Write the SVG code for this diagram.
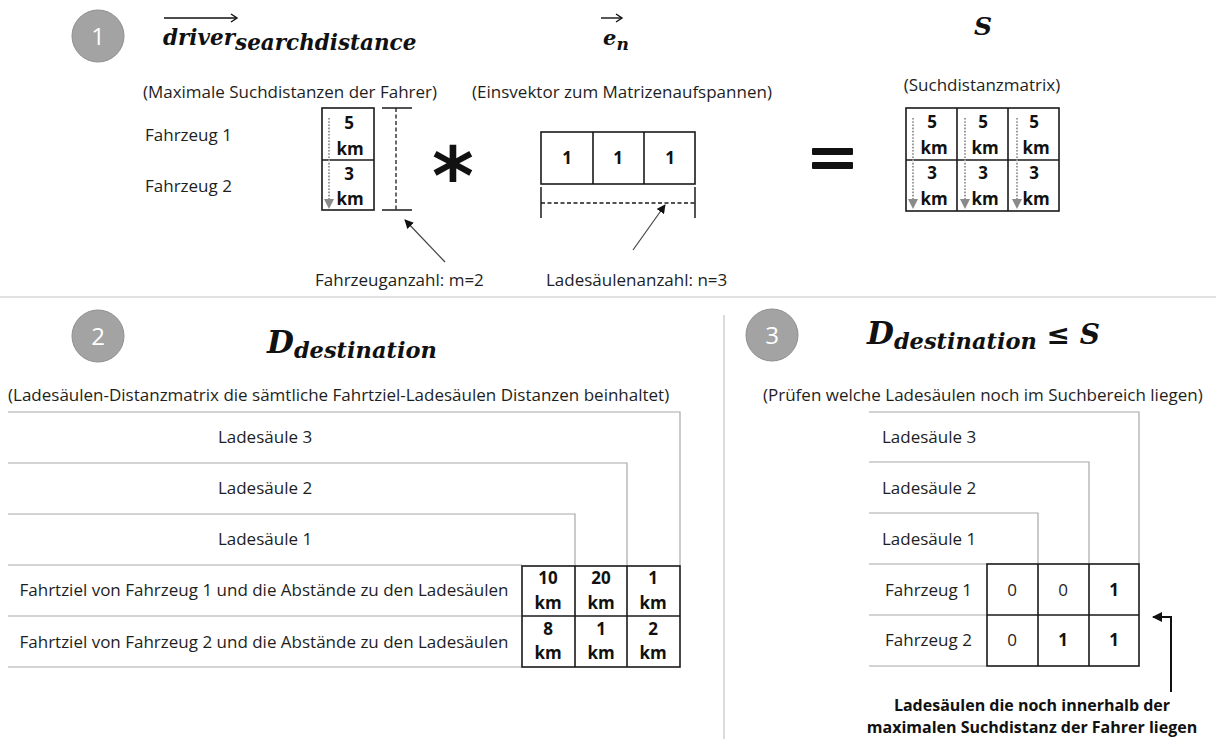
<svg xmlns="http://www.w3.org/2000/svg" width="1216" height="739" viewBox="0 0 1216 739">
  <style>
    .bg { fill: #ffffff; }
    .badge { fill: #a3a3a3; stroke: #8f8f8f; stroke-width: 1; }
    .badge-num { font-family: "Open Sans", "Liberation Sans", sans-serif; font-size: 24px; fill: #ffffff; text-anchor: middle; }
    .math { font-family: "DejaVu Serif", "Liberation Serif", serif; font-weight: bold; font-style: italic; fill: #111111; }
    .txt { font-family: "Open Sans", "Liberation Sans", sans-serif; font-size: 17px; fill: #1e1e1e; }
    .mid { text-anchor: middle; }
    .cell { font-family: "Open Sans", "Liberation Sans", sans-serif; font-size: 17px; font-weight: bold; fill: #111111; text-anchor: middle; }
    .cellv { font-family: "Open Sans", "Liberation Sans", sans-serif; font-size: 17px; fill: #1e1e1e; text-anchor: middle; }
    .grid { fill: none; stroke: #1a1a1a; stroke-width: 1.6; }
    .guide { fill: none; stroke: #a8a8a8; stroke-width: 1.2; }
    .sep { fill: none; stroke: #c4c4c4; stroke-width: 1.2; }
    .dim { fill: none; stroke: #1a1a1a; stroke-width: 1.5; }
    .dash { fill: none; stroke: #1a1a1a; stroke-width: 1.3; stroke-dasharray: 4 2.5; }
    .flow { fill: none; stroke: #9a9a9a; stroke-width: 2; stroke-dasharray: 1.6 1.6; }
    .pointer { fill: none; stroke: #444444; stroke-width: 1.2; }
    .vecbar { fill: none; stroke: #111111; stroke-width: 1.4; }
    .note { font-family: "Open Sans", "Liberation Sans", sans-serif; font-size: 16px; font-weight: bold; fill: #111111; text-anchor: middle; }
  </style>
  <defs>
    <marker id="tip" viewBox="0 0 10 10" refX="9" refY="5" markerWidth="9" markerHeight="9" markerUnits="userSpaceOnUse" orient="auto">
      <path d="M0,0 L10,5 L0,10 z" fill="#111111"/>
    </marker>
    <marker id="tipbig" viewBox="0 0 10 10" refX="9" refY="5" markerWidth="13" markerHeight="10" markerUnits="userSpaceOnUse" orient="auto">
      <path d="M0,0 L10,5 L0,10 z" fill="#111111"/>
    </marker>
    <marker id="tipgray" viewBox="0 0 10 10" refX="8" refY="5" markerWidth="10" markerHeight="10" markerUnits="userSpaceOnUse" orient="auto">
      <path d="M0,0 L10,5 L0,10 z" fill="#8a8a8a"/>
    </marker>
    <path id="vecHead" d="M-6,-4 L0,0 L-6,4" fill="none" stroke="#111111" stroke-width="1.4"/>
  </defs>

  <rect class="bg" x="0" y="0" width="1216" height="739"/>

  <!-- panel separators -->
  <g id="separators">
    <line class="sep" x1="0" y1="297" x2="1216" y2="297"/>
    <line class="sep" x1="724" y1="315" x2="724" y2="739"/>
  </g>

  <!-- ===== step 1: spanning the search distance matrix ===== -->
  <g id="badge-1">
    <circle class="badge" cx="98" cy="36" r="26"/>
    <text class="badge-num" x="98" y="45">1</text>
  </g>

  <g id="title-driver">
    <line class="vecbar" x1="164" y1="18" x2="236" y2="18"/>
    <use href="#vecHead" x="237" y="18"/>
    <text class="math" x="163" y="45" font-size="21.5">driver<tspan dy="5">searchdistance</tspan></text>
  </g>

  <g id="title-en">
    <line class="vecbar" x1="601" y1="18" x2="621" y2="18"/>
    <use href="#vecHead" x="622" y="18"/>
    <text class="math" x="603" y="45" font-size="21">e<tspan dy="5" font-size="17">n</tspan></text>
  </g>

  <g id="title-s">
    <text class="math" x="974" y="35" font-size="25">S</text>
  </g>

  <g id="caption-driver">
    <text class="txt mid" x="290" y="98">(Maximale Suchdistanzen der Fahrer)</text>
  </g>
  <g id="caption-en">
    <text class="txt mid" x="622" y="98">(Einsvektor zum Matrizenaufspannen)</text>
  </g>
  <g id="caption-s">
    <text class="txt mid" x="982" y="91">(Suchdistanzmatrix)</text>
  </g>

  <g id="row-labels-1">
    <text class="txt" x="145" y="141">Fahrzeug 1</text>
    <text class="txt" x="145" y="192">Fahrzeug 2</text>
  </g>

  <!-- column vector of search distances -->
  <g id="vector-driver">
    <rect class="grid" x="322" y="108" width="52" height="102"/>
    <line class="grid" x1="322" y1="160" x2="374" y2="160"/>
    <text class="cell" x="349" y="129">5</text>
    <text class="cell" x="350" y="155">km</text>
    <text class="cell" x="349" y="180">3</text>
    <text class="cell" x="350" y="205">km</text>
  </g>

  <!-- height bracket m -->
  <g id="bracket-m">
    <line class="dim" x1="382" y1="108" x2="412" y2="108"/>
    <line class="dim" x1="382" y1="210" x2="412" y2="210"/>
    <line class="dash" x1="396" y1="108" x2="396" y2="210"/>
  </g>

  <g id="op-multiply">
    <text x="453" y="204" font-family="DejaVu Sans, sans-serif" font-weight="bold" font-size="80" fill="#111111" text-anchor="middle">*</text>
  </g>

  <!-- row vector of ones -->
  <g id="vector-ones">
    <rect class="grid" x="541" y="132" width="154" height="52"/>
    <line class="grid" x1="593" y1="132" x2="593" y2="184"/>
    <line class="grid" x1="644" y1="132" x2="644" y2="184"/>
    <text class="cell" x="567" y="164">1</text>
    <text class="cell" x="618" y="164">1</text>
    <text class="cell" x="670" y="164">1</text>
  </g>

  <!-- width bracket n -->
  <g id="bracket-n">
    <line class="dim" x1="541" y1="187" x2="541" y2="218"/>
    <line class="dim" x1="695" y1="187" x2="695" y2="218"/>
    <line class="dash" x1="541" y1="203" x2="695" y2="203"/>
  </g>

  <g id="label-m">
    <text class="txt" x="315" y="286">Fahrzeuganzahl: m=2</text>
  </g>
  <g id="label-n">
    <text class="txt" x="546" y="286">Ladesäulenanzahl: n=3</text>
  </g>

  <g id="op-equals">
    <rect x="812" y="148" width="41" height="7" rx="1" fill="#111111"/>
    <rect x="812" y="162" width="41" height="7" rx="1" fill="#111111"/>
  </g>

  <!-- resulting search distance matrix S -->
  <g id="matrix-s">
    <rect class="grid" x="906" y="108" width="153" height="103"/>
    <line class="grid" x1="957" y1="108" x2="957" y2="211"/>
    <line class="grid" x1="1008" y1="108" x2="1008" y2="211"/>
    <line class="grid" x1="906" y1="160" x2="1059" y2="160"/>
    <text class="cell" x="932" y="128">5</text>
    <text class="cell" x="934" y="154">km</text>
    <text class="cell" x="932" y="179">3</text>
    <text class="cell" x="934" y="205">km</text>
    <text class="cell" x="983" y="128">5</text>
    <text class="cell" x="985" y="154">km</text>
    <text class="cell" x="983" y="179">3</text>
    <text class="cell" x="985" y="205">km</text>
    <text class="cell" x="1034" y="128">5</text>
    <text class="cell" x="1036" y="154">km</text>
    <text class="cell" x="1034" y="179">3</text>
    <text class="cell" x="1036" y="205">km</text>
  </g>

  <!-- ===== step 2: destination distance matrix ===== -->
  <g id="badge-2">
    <circle class="badge" cx="98" cy="336" r="26"/>
    <text class="badge-num" x="98" y="345">2</text>
  </g>

  <g id="title-d">
    <text class="math" x="267" y="353" font-size="31">D<tspan dy="5" font-size="22.5">destination</tspan></text>
  </g>

  <g id="caption-d">
    <text class="txt" x="8" y="401">(Ladesäulen-Distanzmatrix die sämtliche Fahrtziel-Ladesäulen Distanzen beinhaltet)</text>
  </g>

  <g id="table-d-guides">
    <path class="guide" d="M8,412 H680 V566"/>
    <path class="guide" d="M8,463 H627 V566"/>
    <path class="guide" d="M8,514 H575 V566"/>
    <line class="guide" x1="8" y1="565" x2="522" y2="565"/>
    <line class="guide" x1="8" y1="616" x2="522" y2="616"/>
    <line class="guide" x1="8" y1="667" x2="522" y2="667"/>
  </g>

  <g id="table-d-labels">
    <text class="txt mid" x="265" y="443">Ladesäule 3</text>
    <text class="txt mid" x="265" y="494">Ladesäule 2</text>
    <text class="txt mid" x="265" y="545">Ladesäule 1</text>
    <text class="txt mid" x="264" y="596">Fahrtziel von Fahrzeug 1 und die Abstände zu den Ladesäulen</text>
    <text class="txt mid" x="264" y="648">Fahrtziel von Fahrzeug 2 und die Abstände zu den Ladesäulen</text>
  </g>

  <g id="matrix-d">
    <rect class="grid" x="522" y="566" width="158" height="101"/>
    <line class="grid" x1="575" y1="566" x2="575" y2="667"/>
    <line class="grid" x1="627" y1="566" x2="627" y2="667"/>
    <line class="grid" x1="522" y1="616" x2="680" y2="616"/>
    <text class="cell" x="548" y="584">10</text>
    <text class="cell" x="548" y="609">km</text>
    <text class="cell" x="601" y="584">20</text>
    <text class="cell" x="601" y="609">km</text>
    <text class="cell" x="653" y="584">1</text>
    <text class="cell" x="653" y="609">km</text>
    <text class="cell" x="548" y="635">8</text>
    <text class="cell" x="548" y="659">km</text>
    <text class="cell" x="601" y="635">1</text>
    <text class="cell" x="601" y="659">km</text>
    <text class="cell" x="653" y="635">2</text>
    <text class="cell" x="653" y="659">km</text>
  </g>

  <!-- ===== step 3: comparison against S ===== -->
  <g id="badge-3">
    <circle class="badge" cx="772" cy="335" r="26"/>
    <text class="badge-num" x="772" y="344">3</text>
  </g>

  <g id="title-cmp">
    <text class="math" x="867" y="344" font-size="31">D<tspan dy="5" font-size="22.5">destination</tspan><tspan dy="-5" font-size="28"> ≤ S</tspan></text>
  </g>

  <g id="caption-cmp">
    <text class="txt" x="763" y="401">(Prüfen welche Ladesäulen noch im Suchbereich liegen)</text>
  </g>

  <g id="table-cmp-guides">
    <path class="guide" d="M869,412 H1139 V564"/>
    <path class="guide" d="M869,462 H1089 V564"/>
    <path class="guide" d="M869,513 H1038 V564"/>
    <line class="guide" x1="869" y1="564" x2="987" y2="564"/>
    <line class="guide" x1="869" y1="615" x2="987" y2="615"/>
    <line class="guide" x1="869" y1="666" x2="987" y2="666"/>
  </g>

  <g id="table-cmp-labels">
    <text class="txt" x="882" y="443">Ladesäule 3</text>
    <text class="txt" x="882" y="494">Ladesäule 2</text>
    <text class="txt" x="882" y="545">Ladesäule 1</text>
    <text class="txt" x="885" y="596">Fahrzeug 1</text>
    <text class="txt" x="885" y="646">Fahrzeug 2</text>
  </g>

  <g id="matrix-cmp">
    <rect class="grid" x="987" y="564" width="152" height="102"/>
    <line class="grid" x1="1038" y1="564" x2="1038" y2="666"/>
    <line class="grid" x1="1089" y1="564" x2="1089" y2="666"/>
    <line class="grid" x1="987" y1="615" x2="1139" y2="615"/>
    <text class="cellv" x="1012" y="596">0</text>
    <text class="cellv" x="1063" y="596">0</text>
    <text class="cell" x="1114" y="596">1</text>
    <text class="cellv" x="1012" y="646">0</text>
    <text class="cell" x="1063" y="646">1</text>
    <text class="cell" x="1114" y="646">1</text>
  </g>

  <g id="note-cmp">
    <text class="note" x="1032" y="711">Ladesäulen die noch innerhalb der</text>
    <text class="note" x="1032" y="733">maximalen Suchdistanz der Fahrer liegen</text>
  </g>

  <!-- connectors -->
  <g id="connectors">
    <line class="flow" x1="329" y1="118" x2="329" y2="207" marker-end="url(#tipgray)"/>
    <line class="flow" x1="913" y1="118" x2="913" y2="207" marker-end="url(#tipgray)"/>
    <line class="flow" x1="965" y1="118" x2="965" y2="207" marker-end="url(#tipgray)"/>
    <line class="flow" x1="1017" y1="118" x2="1017" y2="207" marker-end="url(#tipgray)"/>
    <line class="pointer" x1="445" y1="262" x2="405" y2="220" marker-end="url(#tip)"/>
    <line class="pointer" x1="633" y1="250" x2="665" y2="205" marker-end="url(#tip)"/>
    <path d="M1171,692 V617 H1153" fill="none" stroke="#111111" stroke-width="2" marker-end="url(#tipbig)"/>
  </g>
</svg>
